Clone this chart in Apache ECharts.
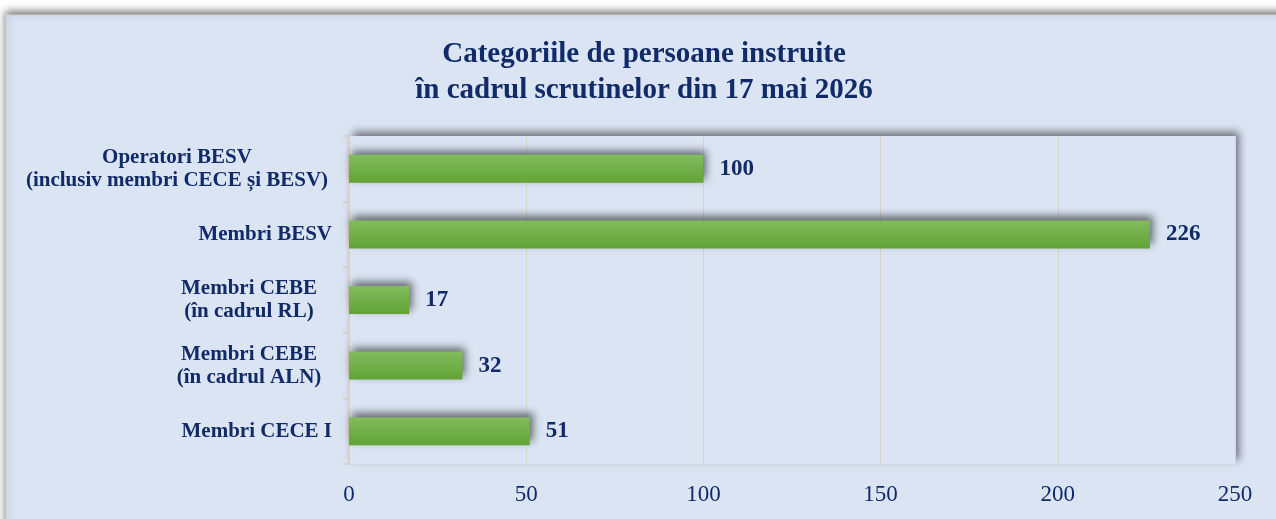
<!DOCTYPE html>
<html>
<head>
<meta charset="utf-8">
<script src="https://cdn.jsdelivr.net/npm/echarts@6/dist/echarts.min.js"></script>
<style>
  html, body { margin: 0; padding: 0; background: #ffffff; }
  #chart { width: 1276px; height: 519px; }
</style>
</head>
<body>
<div id="chart"></div>
<script>
const titleText = 'Categoriile de persoane instruite\nîn cadrul scrutinelor din 17 mai 2026';
const categories = [
  'Operatori BESV\n(inclusiv membri CECE și BESV)',
  'Membri BESV',
  'Membri CEBE\n(în cadrul RL)',
  'Membri CEBE\n(în cadrul ALN)',
  'Membri CECE I'
];
const values = [100, 226, 17, 32, 51];
const axisMin = 0, axisMax = 250, axisStep = 50;

const NAVY = '#112a68';
const SERIF = "'Liberation Serif', 'Times New Roman', serif";
const PANEL = '#dbe4f3';
const LBL = { fontFamily: SERIF, fontWeight: 'bold', fontSize: 21, lineHeight: 23, color: NAVY };

const chart = echarts.init(document.getElementById('chart'), null, { renderer: 'canvas' });
chart.setOption({
  backgroundColor: '#ffffff',
  animation: false,
  graphic: {
    elements: [{
      type: 'rect',
      z: -100,
      silent: true,
      shape: { x: 6, y: 15, width: 1290, height: 520 },
      style: {
        fill: PANEL,
        stroke: '#d2d2d2',
        lineWidth: 1,
        shadowBlur: 8,
        shadowOffsetY: -3,
        shadowColor: 'rgba(0,0,0,0.55)'
      }
    }]
  },
  title: {
    text: titleText,
    left: 644,
    textAlign: 'center',
    top: 37,
    padding: 0,
    textStyle: {
      fontFamily: SERIF,
      fontWeight: 'bold',
      fontSize: 29,
      lineHeight: 36,
      color: NAVY
    }
  },
  grid: {
    left: 349,
    right: 41,
    top: 136,
    bottom: 55,
    show: true,
    backgroundColor: PANEL,
    borderWidth: 0,
    shadowBlur: 8,
    shadowOffsetX: 4,
    shadowOffsetY: -4,
    shadowColor: 'rgba(0,0,0,0.5)'
  },
  xAxis: {
    type: 'value',
    min: axisMin,
    max: axisMax,
    interval: axisStep,
    axisLine: { show: true, lineStyle: { color: '#d5d9e2', width: 1 } },
    axisTick: { show: false },
    splitLine: { show: true, lineStyle: { color: '#d9d3c8', width: 1 } },
    axisLabel: {
      margin: 19,
      fontFamily: SERIF,
      fontSize: 23,
      color: NAVY
    }
  },
  yAxis: {
    type: 'category',
    inverse: true,
    data: categories,
    axisLine: { show: true, lineStyle: { color: '#d6d1c9', width: 2 } },
    axisTick: { show: true, length: 6, lineStyle: { color: '#d6d1c9', width: 2 } },
    axisLabel: {
      margin: 17,
      fontFamily: SERIF,
      fontWeight: 'bold',
      fontSize: 21,
      lineHeight: 23,
      color: NAVY,
      formatter: function (value, idx) {
        const lines = value.split('\n');
        if (lines.length === 1) return '{s|' + value + '}';
        const st = idx === 0 ? 'w' : 'm';
        return lines.map(l => '{' + st + '|' + l + '}').join('\n');
      },
      rich: {
        s: Object.assign({}, LBL),
        w: Object.assign({}, LBL, { width: 310, align: 'center' }),
        m: Object.assign({}, LBL, { width: 150, align: 'center', padding: [0, 8, 0, 0] })
      }
    }
  },
  series: [{
    type: 'bar',
    data: values,
    barWidth: 28,
    itemStyle: {
      color: new echarts.graphic.LinearGradient(0, 0, 0, 1, [
        { offset: 0, color: '#82bc5e' },
        { offset: 1, color: '#62a335' }
      ]),
      shadowBlur: 8,
      shadowOffsetX: 3,
      shadowOffsetY: -4,
      shadowColor: 'rgba(0,0,0,0.55)'
    },
    label: {
      show: true,
      position: 'right',
      distance: 16,
      fontFamily: SERIF,
      fontWeight: 'bold',
      fontSize: 23,
      color: NAVY
    }
  }]
});
</script>
</body>
</html>
